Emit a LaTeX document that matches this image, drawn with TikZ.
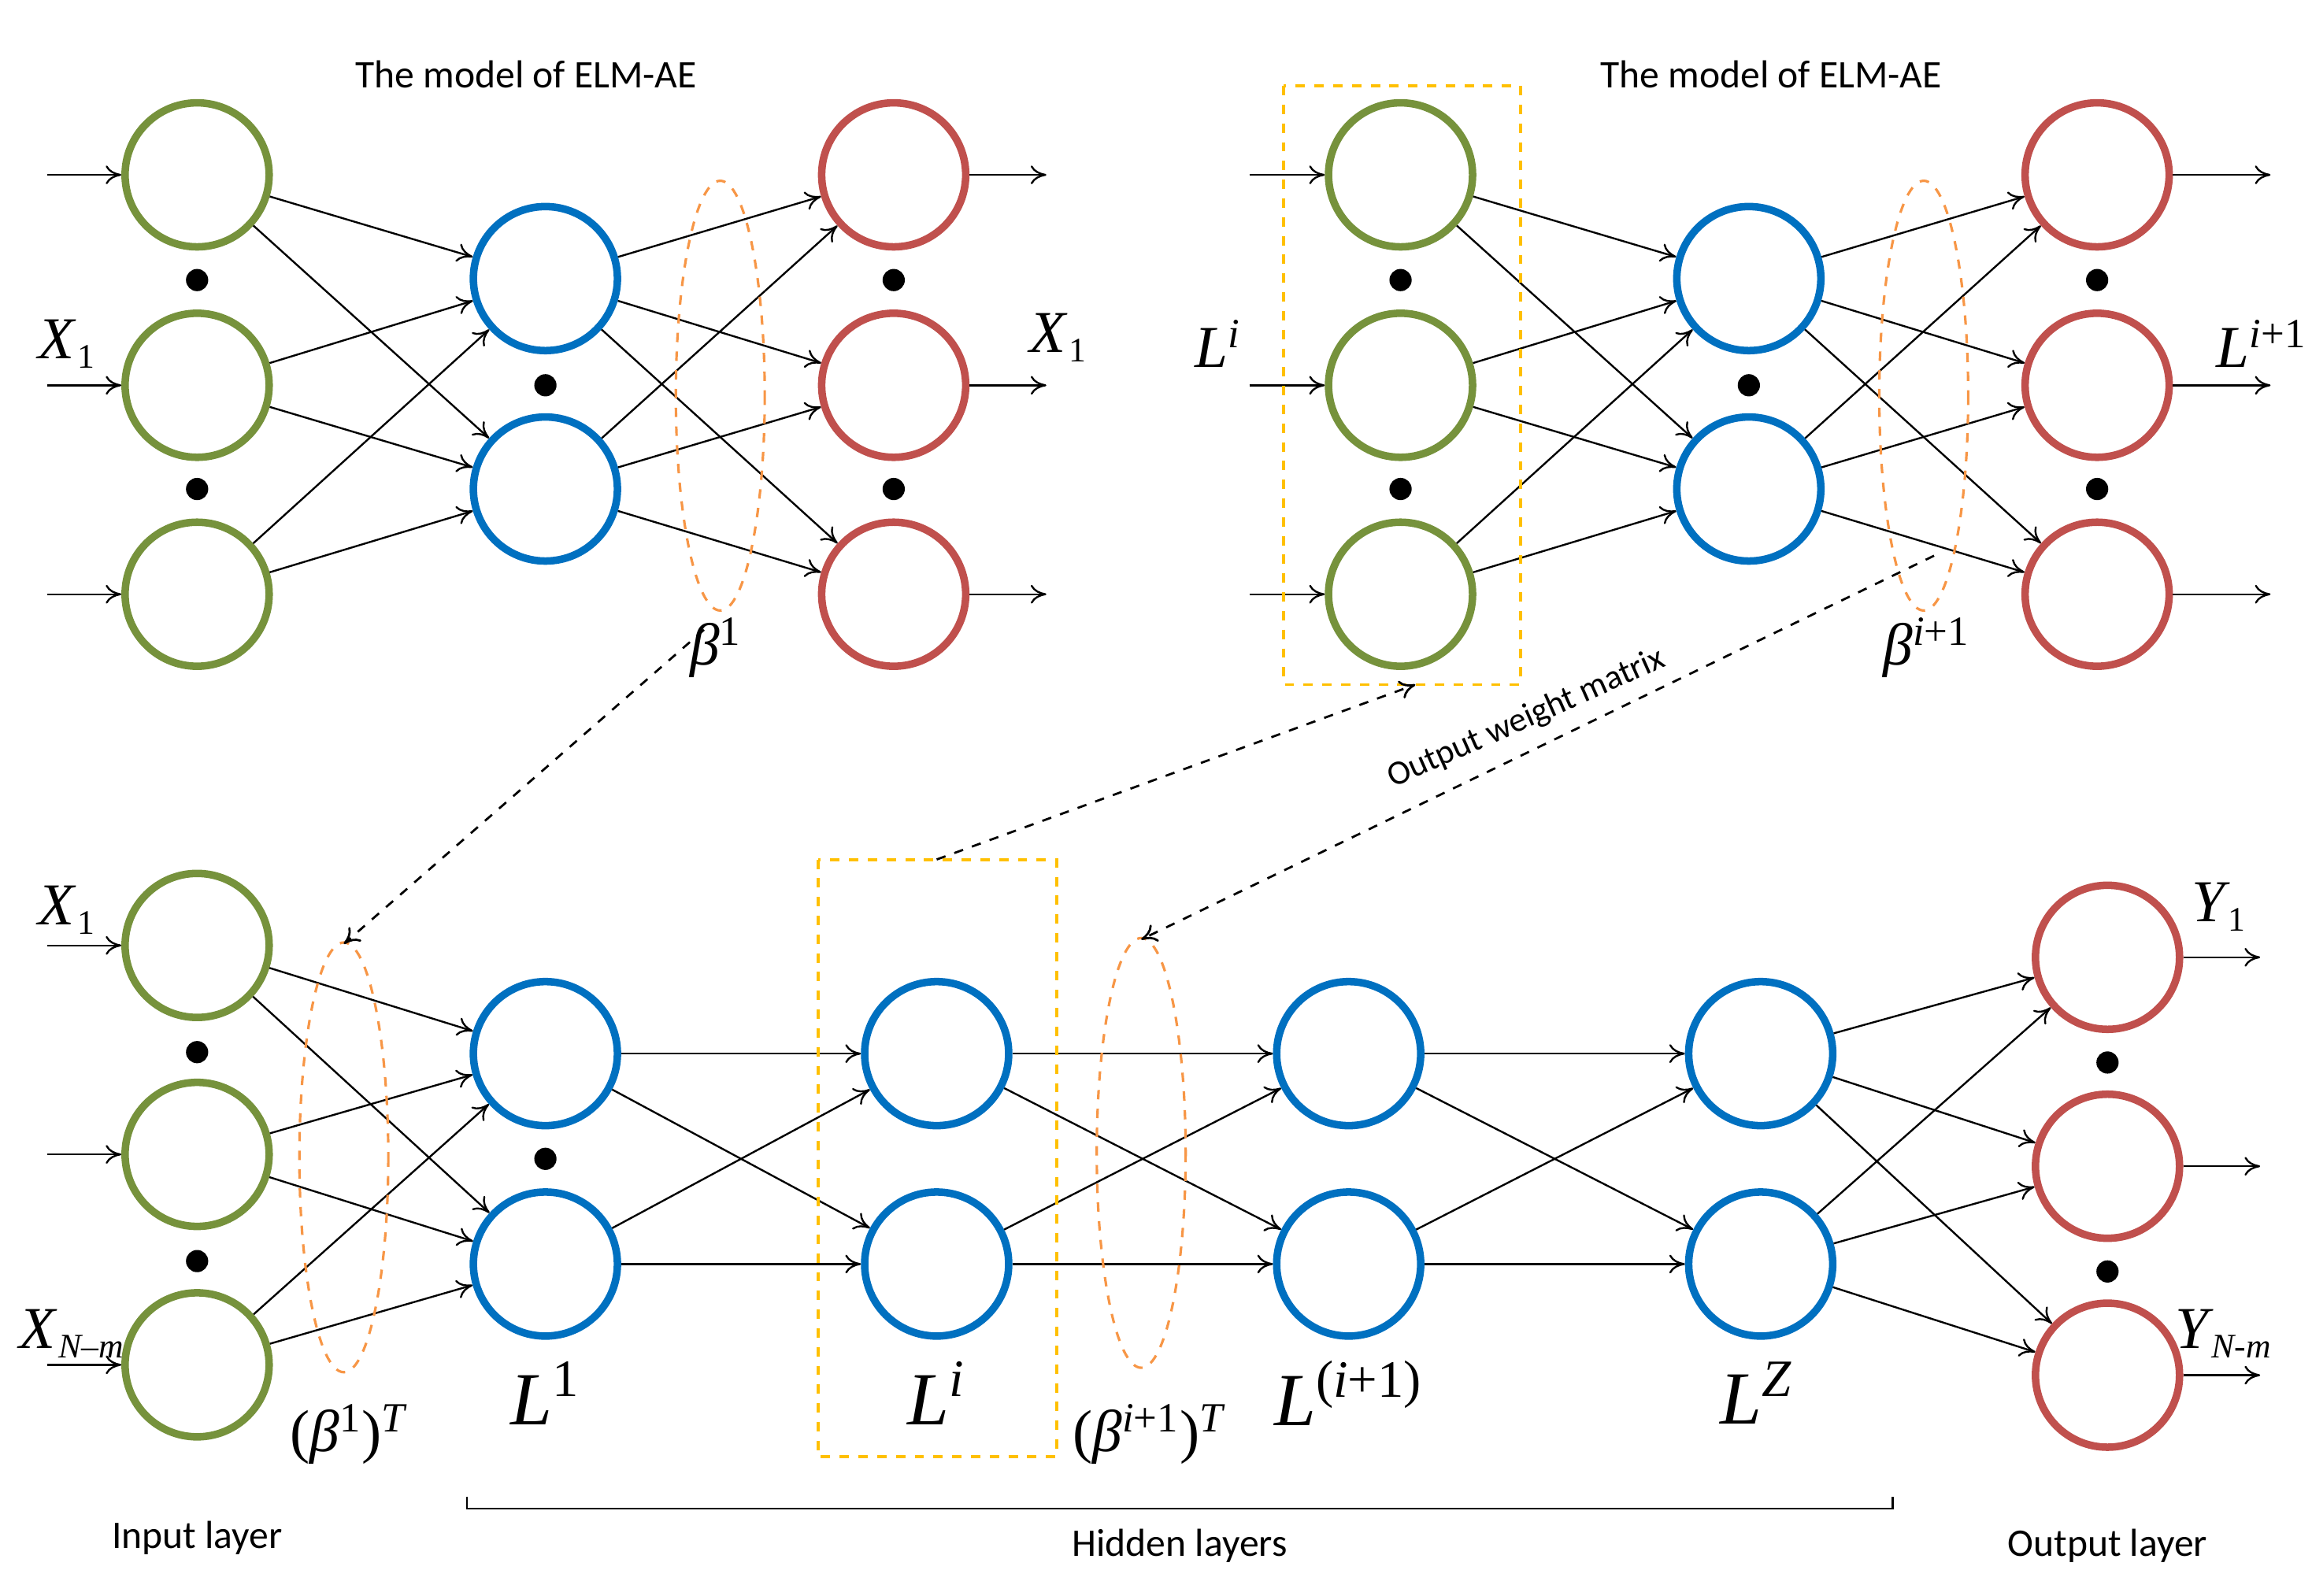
\documentclass[tikz,border=0pt]{standalone}
\usepackage{fontspec}
\setmainfont{Liberation Serif}
\newfontfamily\carl{Carlito}
\usetikzlibrary{arrows.meta}
\definecolor{cg}{RGB}{118,146,60}
\definecolor{cb}{RGB}{0,112,192}
\definecolor{cr}{RGB}{192,80,77}
\definecolor{co}{RGB}{247,150,70}
\definecolor{cy}{RGB}{255,192,0}
\newcommand\mysb[1]{\raisebox{-0.35ex}{\kern1pt\fontsize{11}{12}\selectfont#1}}
\newcommand\mysp[1]{\textsuperscript{#1}}
\begin{document}
\begin{tikzpicture}[x=1cm/60,y=-1cm/60,
 neu/.style={circle,draw,line width=2.4pt,minimum size=1.62cm,inner sep=0},
 G/.style={neu,draw=cg},B/.style={neu,draw=cb},R/.style={neu,draw=cr},
 dot/.style={circle,fill=black,inner sep=0,minimum size=0.25cm},
 con/.style={line width=0.6pt,-{To[length=5pt,width=6pt]}},
 ln/.style={line width=0.6pt},
 ell/.style={draw=co,dashed,line width=0.8pt},
 box/.style={draw=cy,dashed,line width=1pt},
 da/.style={dashed,line width=0.7pt,-{To[length=5pt,width=6pt]}},
 lab/.style={font=\fontsize{19}{20}\selectfont\itshape},
 txt/.style={font=\carl\fontsize{12.5}{14}\selectfont}]
\useasboundingbox (0,0) rectangle (1560,1076.6);
% ---- top-left
\foreach \i/\y in {1/118,2/260,3/401}{\node[G] (TLg\i) at (133,\y) {}; \node[R] (TLr\i) at (603,\y) {};
  \coordinate (TLi\i) at (32,\y); \coordinate (TLo\i) at (706,\y);
  \draw[con] (TLi\i) -- (TLg\i); \draw[con] (TLr\i) -- (TLo\i);}
\foreach \i/\y in {1/188,2/330}{\node[B] (TLb\i) at (368,\y) {};}
\foreach \g in {1,2,3}{\foreach \b in {1,2}{\draw[con] (TLg\g) -- (TLb\b); \draw[con] (TLb\b) -- (TLr\g);}}
\node[dot] (d1) at (133,189) {}; \node[dot] (d2) at (133,330) {};
\node[dot] (d3) at (368,260) {};
\node[dot] (d4) at (603,189) {}; \node[dot] (d5) at (603,330) {};
\draw[ell] (486,267) ellipse [x radius=30,y radius=145];
\node[lab] (TLx) at (45,232) {X\mysb{\upshape 1}};
\node[lab] (TLy) at (714,228) {X\mysb{\upshape 1}};
\node[lab] (beta1) at (483,437) {β\mysp{\upshape 1}};
\node[txt] (t1) at (355,50) {The model of ELM-AE};
% ---- top-right
\foreach \i/\y in {1/118,2/260,3/401}{\node[G] (TRg\i) at (945,\y) {}; \node[R] (TRr\i) at (1415,\y) {};
  \coordinate (TRi\i) at (843,\y); \coordinate (TRo\i) at (1532,\y);
  \draw[con] (TRi\i) -- (TRg\i); \draw[con] (TRr\i) -- (TRo\i);}
\foreach \i/\y in {1/188,2/330}{\node[B] (TRb\i) at (1180,\y) {};}
\foreach \g in {1,2,3}{\foreach \b in {1,2}{\draw[con] (TRg\g) -- (TRb\b); \draw[con] (TRb\b) -- (TRr\g);}}
\node[dot] (e1) at (945,189) {}; \node[dot] (e2) at (945,330) {};
\node[dot] (e3) at (1180,260) {};
\node[dot] (e4) at (1415,189) {}; \node[dot] (e5) at (1415,330) {};
\draw[ell] (1298,267) ellipse [x radius=30,y radius=145];
\draw[box] (866,58) rectangle (1026,462);
\node[lab] (TRx) at (822,232) {L\mysp{i}};
\node[lab] (TRy) at (1526,232) {L\mysp{i\upshape +1}};
\node[lab] (beta2) at (1300,437) {β\mysp{i\upshape +1}};
\node[txt] (t2) at (1195,50) {The model of ELM-AE};
% ---- bottom
\foreach \i/\y in {1/638,2/779,3/921}{\node[G] (Bg\i) at (133,\y) {}; \coordinate (Bi\i) at (32,\y); \draw[con] (Bi\i) -- (Bg\i);}
\foreach \i/\y in {1/646,2/787,3/928}{\node[R] (Br\i) at (1422,\y) {}; \coordinate (Bo\i) at (1525,\y); \draw[con] (Br\i) -- (Bo\i);}
\foreach \c/\x in {1/368,2/632,3/910,4/1188}{\node[B] (H\c a) at (\x,711) {}; \node[B] (H\c b) at (\x,853) {};}
\foreach \g in {1,2,3}{\foreach \h in {a,b}{\draw[con] (Bg\g) -- (H1\h); \draw[con] (H4\h) -- (Br\g);}}
\foreach \p/\q in {1/2,2/3,3/4}{\foreach \h in {a,b}{\foreach \k in {a,b}{\draw[con] (H\p\h) -- (H\q\k);}}}
\node[dot] (f1) at (133,710) {}; \node[dot] (f2) at (133,851) {};
\node[dot] (f3) at (368,782) {};
\node[dot] (f4) at (1422,717) {}; \node[dot] (f5) at (1422,858) {};
\draw[ell] (232,781) ellipse [x radius=30,y radius=145];
\draw[ell] (770,778) ellipse [x radius=30,y radius=145];
\draw[box] (552,580) rectangle (713,983);
\node[lab] (bx1) at (45,614) {X\mysb{\upshape 1}};
\node[lab] (bx2) at (48,900) {X\mysb{N–m}};
\node[lab] (by1) at (1497,612) {Y\mysb{\upshape 1}};
\node[lab] (by2) at (1500,900) {Y\mysb{N-m}};
\node[lab] (l1) at (235,968) {\upshape(\itshape β\mysp{\upshape 1}\upshape)\mysp{\itshape T}};
\node[lab,font=\fontsize{24}{26}\selectfont\itshape] (l2) at (368,940) {L\mysp{\upshape 1}};
\node[lab,font=\fontsize{24}{26}\selectfont\itshape] (l3) at (632,940) {L\mysp{i}};
\node[lab] (l4) at (775,968) {\upshape(\itshape β\mysp{i\upshape +1}\upshape)\mysp{\itshape T}};
\node[lab,font=\fontsize{24}{26}\selectfont\itshape] (l5) at (910,940) {L\mysp{\upshape(\itshape i\upshape +1)}};
\node[lab,font=\fontsize{24}{26}\selectfont\itshape] (l6) at (1185,940) {L\mysp{Z}};
\draw[ln] (315,1010) -- (315,1018) -- (1277,1018) -- (1277,1010);
\node[txt] (hl) at (796,1043) {Hidden layers};
\node[txt] (il) at (133,1038) {Input layer};
\node[txt] (ol) at (1422,1043) {Output layer};
% ---- dashed links
\coordinate (a1) at (475,425); \coordinate (a2) at (232,637);
\coordinate (b1) at (632,580); \coordinate (b2) at (955,462);
\coordinate (c1) at (1305,375); \coordinate (c2) at (770,634);
\draw[da] (a1) -- (a2); \draw[da] (b1) -- (b2); \draw[da] (c1) -- (c2);
\node[txt,rotate=24,font=\carl\fontsize{11}{12}\selectfont] (owm) at (1030,485) {Output weight matrix};
\end{tikzpicture}
\end{document}
